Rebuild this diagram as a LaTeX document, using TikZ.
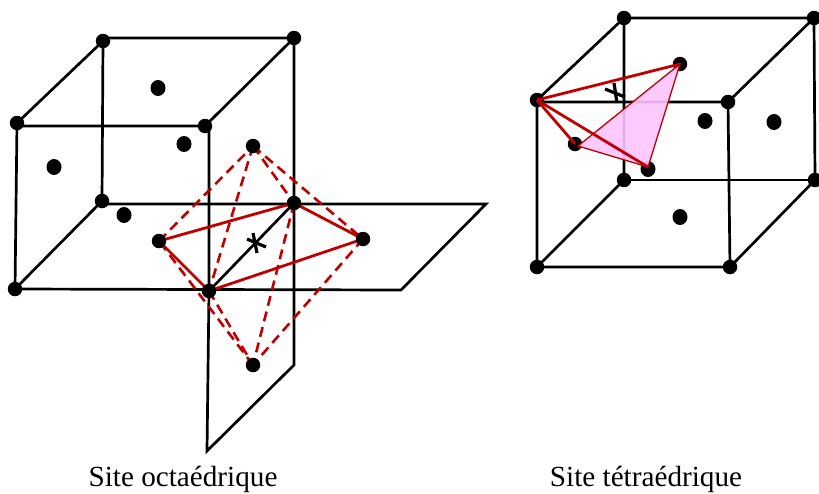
\documentclass[tikz,border=0pt]{standalone}
\usepackage{fontspec}
\setmainfont{Liberation Serif}
\usetikzlibrary{backgrounds,shapes.geometric}
\definecolor{sitered}{HTML}{C00000}
\definecolor{sitepink}{HTML}{FFC4FF}
\tikzset{
  atom/.style={circle, fill=black, inner sep=0pt, minimum size=14.5pt},
  faceatom/.style={ellipse, fill=black, inner sep=0pt, minimum width=15pt, minimum height=16pt},
  edge/.style={line width=2.7pt, black},
  redline/.style={line width=2.8pt, sitered},
  reddash/.style={line width=2.6pt, sitered, dash pattern=on 10pt off 6pt},
  cross/.style={line width=3.2pt, black},
  caption/.style={font=\fontsize{29.2}{33}\selectfont, inner sep=0pt}
}
\begin{document}
\begin{tikzpicture}[x=1pt,y=-1pt]
\useasboundingbox (0,0) rectangle (819,493);
% maille de gauche
\foreach \n/\x/\y in {af/17/123,bf/205/126,cf/209/291,df/15/289,ab/103/41,bb/294/38,cb/294/203,db/102/201,
  ot/253/146,og/159/241,od/363/239,ob/253/365} {
  \node[atom] (\n) at (\x,\y) {};
}
\foreach \n/\x/\y in {ft/158/88,fr/184/144,fl/54/167,fd/124/215} {
  \node[faceatom] (\n) at (\x,\y) {};
}
\coordinate (pa) at (401,290);
\coordinate (pb) at (486,204);
\coordinate (va) at (207,451);
\coordinate (vb) at (294,365);
\coordinate (oa) at (247,239);
\coordinate (oc) at (266,247);
\coordinate (oe) at (253,233);
\coordinate (of) at (257,253);
\begin{scope}[on background layer]
\draw[edge] (af.center |- bf.center) -- (cf.center |- bf.center) -- (cf.center) -- (va) -- (vb) -- (bb.center);
\draw[edge] (af.center) -- (df.center) -- (pa) -- (pb) -- (db.center |- pb) -- (db.center) -- (df.center);
\draw[edge] (af.center) -- (ab.center) -- (db.center);
\draw[edge] (ab.center |- bb.center) -- (bb.center) -- (bf.center);
\draw[edge] (cf.center) -- (cb.center);
\draw[cross] (oa) -- (oc);
\draw[cross] (oe) -- (of);
\foreach \a/\b in {og/ot,ot/od,od/ob,ob/og,ot/cb,cb/ob,ot/cf,cf/ob} {
  \draw[reddash] (\a.center) -- (\b.center);
}
\foreach \a/\b in {og/cb,cb/od,od/cf,cf/og} {
  \draw[redline] (\a.center) -- (\b.center);
}
\end{scope}
% maille de droite
\foreach \n/\x/\y in {raf/537/100,rbf/728/102,rcf/730/267,rdf/537/267,rab/624/18,rbb/814/18,rcb/815/180,rdb/624/180,
  rt/680/64,rl/575/144} {
  \node[atom] (\n) at (\x,\y) {};
}
\foreach \n/\x/\y in {rb/648/169,rr/705/121,re/774/122,rd/680/217} {
  \node[faceatom] (\n) at (\x,\y) {};
}
\coordinate (tl) at (578,146);
\coordinate (tb) at (648,167);
\coordinate (ra) at (605,89);
\coordinate (rc) at (625,97);
\coordinate (rg) at (614,83);
\coordinate (rf) at (617,103);
\begin{scope}[on background layer]
\draw[edge] (raf.center |- rbf.center) -- (rbf.center) -- (rcf.center) -- (rdf.center) -- (raf.center);
\draw[edge] (raf.center) -- (rab.center) -- (rbb.center) -- (rbf.center);
\draw[edge] (rab.center) -- (rdb.center) -- (rdf.center);
\draw[edge] (rdb.center) -- (rcb.center);
\draw[edge] (rbb.center) -- (rcb.center) -- (rcf.center);
\draw[cross] (ra) -- (rc);
\draw[cross] (rg) -- (rf);
\end{scope}
\fill[sitepink, fill opacity=0.9] (rt.center) -- (tl) -- (tb) -- cycle;
\draw[sitered, line width=1.3pt] (rt.center) -- (tl) -- (tb) -- cycle;
\foreach \b in {rt.center,tb,rl.center} {
  \draw[redline] (raf.center) -- (\b);
}
\node[caption] (capo) at (183,479) {Site octaédrique};
\node[caption] (capt) at (646,479) {Site tétraédrique};
\end{tikzpicture}
\end{document}
